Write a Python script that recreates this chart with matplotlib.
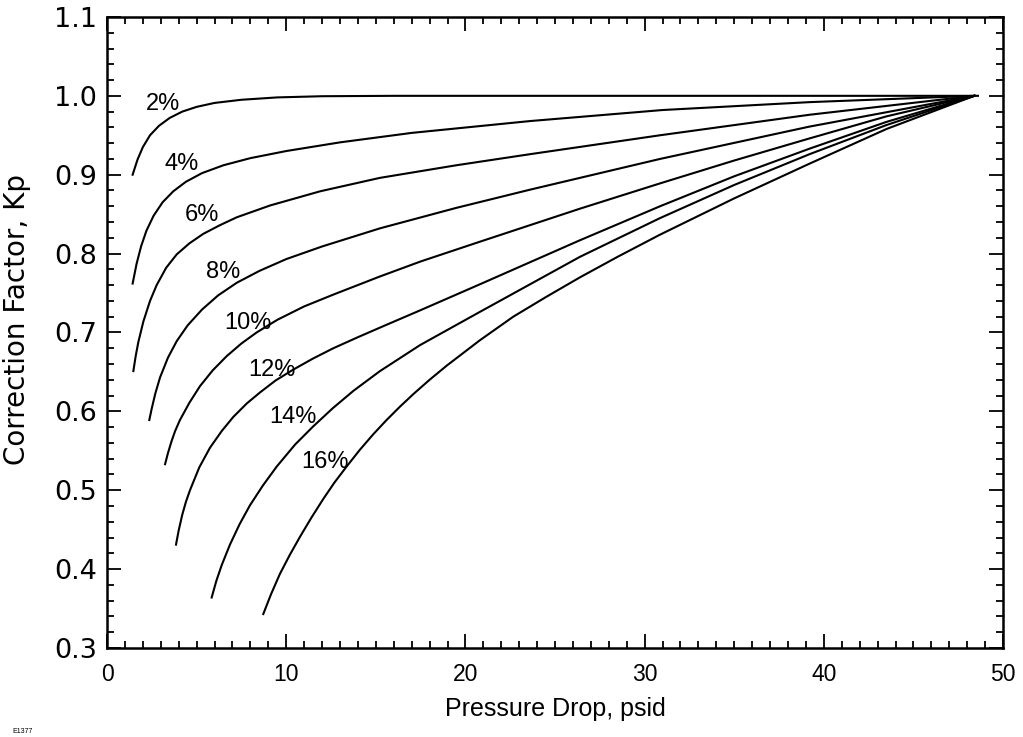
import matplotlib
matplotlib.use("Agg")
import matplotlib.pyplot as plt
from matplotlib.ticker import MultipleLocator

plt.rcParams['font.family'] = ['Liberation Sans', 'DejaVu Sans']

# curves: pressure drop (psid) vs correction factor Kp
x_2 = [1.43, 1.7, 2.0, 2.4, 2.9, 3.5, 4.2, 5.0, 6.0, 7.5, 9.5, 12.0, 16.0, 25.0, 35.0, 48.6]
y_2 = [0.900, 0.919, 0.935, 0.950, 0.962, 0.972, 0.980, 0.986, 0.991, 0.995, 0.998, 0.9995, 1.0, 1.0, 1.0, 1.0]

x_4 = [1.43, 1.65, 1.9, 2.2, 2.6, 3.1, 3.7, 4.4, 5.3, 6.5, 8.0, 10.0, 13.0, 17.0, 23.6, 31.0, 39.2, 48.4]
y_4 = [0.762, 0.787, 0.809, 0.829, 0.848, 0.865, 0.879, 0.891, 0.902, 0.912, 0.921, 0.930, 0.941, 0.953, 0.968, 0.982, 0.992, 1.0]

x_6 = [1.47, 1.6, 1.75, 2.03, 2.4, 2.77, 3.3, 3.89, 4.6, 5.37, 6.3, 7.24, 9.1, 11.9, 15.23, 19.5, 23.6, 30.86, 39.2, 48.4]
y_6 = [0.651, 0.670, 0.688, 0.714, 0.740, 0.760, 0.782, 0.799, 0.813, 0.825, 0.836, 0.846, 0.861, 0.879, 0.896, 0.912, 0.926, 0.950, 0.976, 1.0]

x_8 = [2.36, 2.5, 2.7, 2.96, 3.4, 3.89, 4.5, 5.3, 6.2, 7.24, 8.5, 10.0, 12.0, 15.23, 19.5, 23.6, 30.86, 39.2, 48.4]
y_8 = [0.589, 0.604, 0.623, 0.643, 0.668, 0.689, 0.709, 0.729, 0.747, 0.763, 0.778, 0.793, 0.809, 0.832, 0.858, 0.881, 0.920, 0.961, 1.0]

x_10 = [3.24, 3.4, 3.6, 3.8, 4.07, 4.6, 5.19, 5.9, 6.68, 7.5, 8.35, 9.5, 11.0, 12.63, 15.23, 17.5,
        20.8, 23.6, 26.4, 30.86, 35.0, 39.2, 43.5, 48.4]
y_10 = [0.533, 0.547, 0.562, 0.575, 0.589, 0.611, 0.632, 0.652, 0.670, 0.686, 0.700, 0.716, 0.733, 0.748, 0.771, 0.790,
        0.815, 0.836, 0.857, 0.889, 0.918, 0.946, 0.974, 1.0]

x_12 = [3.85, 4.0, 4.2, 4.4, 4.63, 5.15, 5.75, 6.4, 7.05, 7.8, 8.54, 9.4, 10.4, 11.5, 12.63, 14.0, 15.42,
        17.47, 20.8, 23.6, 26.4, 30.86, 35.0, 39.2, 43.5, 48.4]
y_12 = [0.431, 0.449, 0.469, 0.485, 0.500, 0.529, 0.554, 0.575, 0.593, 0.610, 0.624, 0.639, 0.653, 0.667, 0.680, 0.694, 0.708,
        0.728, 0.761, 0.789, 0.817, 0.860, 0.898, 0.933, 0.967, 1.0]

x_14 = [5.84, 6.1, 6.4, 6.86, 7.4, 7.98, 8.7, 9.47, 10.5, 11.51, 12.6, 13.75, 15.23, 17.47, 20.8, 23.6,
        26.4, 30.86, 35.0, 39.2, 43.5, 48.4]
y_14 = [0.364, 0.385, 0.405, 0.431, 0.457, 0.481, 0.506, 0.530, 0.558, 0.581, 0.604, 0.626, 0.651, 0.684, 0.726, 0.761,
        0.796, 0.845, 0.887, 0.926, 0.963, 1.0]

x_16 = [8.72, 9.15, 9.65, 10.2, 10.77, 11.4, 12.07, 12.7, 13.37, 14.1, 14.86, 15.6, 16.35, 17.1, 18.0, 18.96,
        20.8, 22.67, 24.5, 26.4, 28.5, 30.86, 35.0, 39.2, 43.5, 48.4]
y_16 = [0.343, 0.368, 0.394, 0.418, 0.441, 0.465, 0.489, 0.510, 0.530, 0.551, 0.571, 0.589, 0.606, 0.622, 0.640, 0.658,
        0.690, 0.720, 0.745, 0.770, 0.796, 0.824, 0.870, 0.914, 0.958, 1.0]

curves = [(x_2, y_2), (x_4, y_4), (x_6, y_6), (x_8, y_8),
          (x_10, y_10), (x_12, y_12), (x_14, y_14), (x_16, y_16)]

labels = ['2%', '4%', '6%', '8%', '10%', '12%', '14%', '16%']
label_x = [3.1, 4.17, 5.28, 6.49, 7.88, 9.19, 10.4, 12.17]
label_y = [0.990, 0.914, 0.849, 0.777, 0.712, 0.652, 0.593, 0.536]

fig = plt.figure(figsize=(10.23, 7.37), dpi=100)
ax = fig.add_axes([0.1046, 0.1208, 0.8759, 0.8562])

for xs, ys in curves:
    ax.plot(xs, ys, color='black', lw=1.5, solid_joinstyle='round')

for lab, lx, ly in zip(labels, label_x, label_y):
    ax.text(lx, ly, lab, fontsize=17, ha='center', va='center')

ax.set_xlim(0, 50)
ax.set_ylim(0.3, 1.1)
ax.xaxis.set_major_locator(MultipleLocator(10))
ax.xaxis.set_minor_locator(MultipleLocator(1))
ax.yaxis.set_major_locator(MultipleLocator(0.1))
ax.yaxis.set_minor_locator(MultipleLocator(0.02))
ax.yaxis.set_major_formatter(plt.FormatStrFormatter('%.1f'))

ax.tick_params(which='both', direction='in', top=True, right=True, width=1.3)
ax.tick_params(which='major', length=10)
ax.tick_params(which='minor', length=5)
ax.tick_params(axis='x', which='major', pad=11, labelsize=16.5)
ax.tick_params(axis='y', which='major', pad=7, labelsize=19.5)
for t in ax.get_yticklabels():
    t.set_fontfamily('DejaVu Sans')
for sp in ax.spines.values():
    sp.set_linewidth(1.8)

ax.set_xlabel('Pressure Drop, psid', fontsize=18)
ax.xaxis.set_label_coords(0.5, -0.078)
ax.set_ylabel('Correction Factor, Kp', fontsize=20, family='DejaVu Sans')
ax.yaxis.set_label_coords(-0.085, 0.52)

fig.text(0.012, 0.003, 'E1377', fontsize=5, va='bottom')

fig.savefig('out.png', dpi=100)
